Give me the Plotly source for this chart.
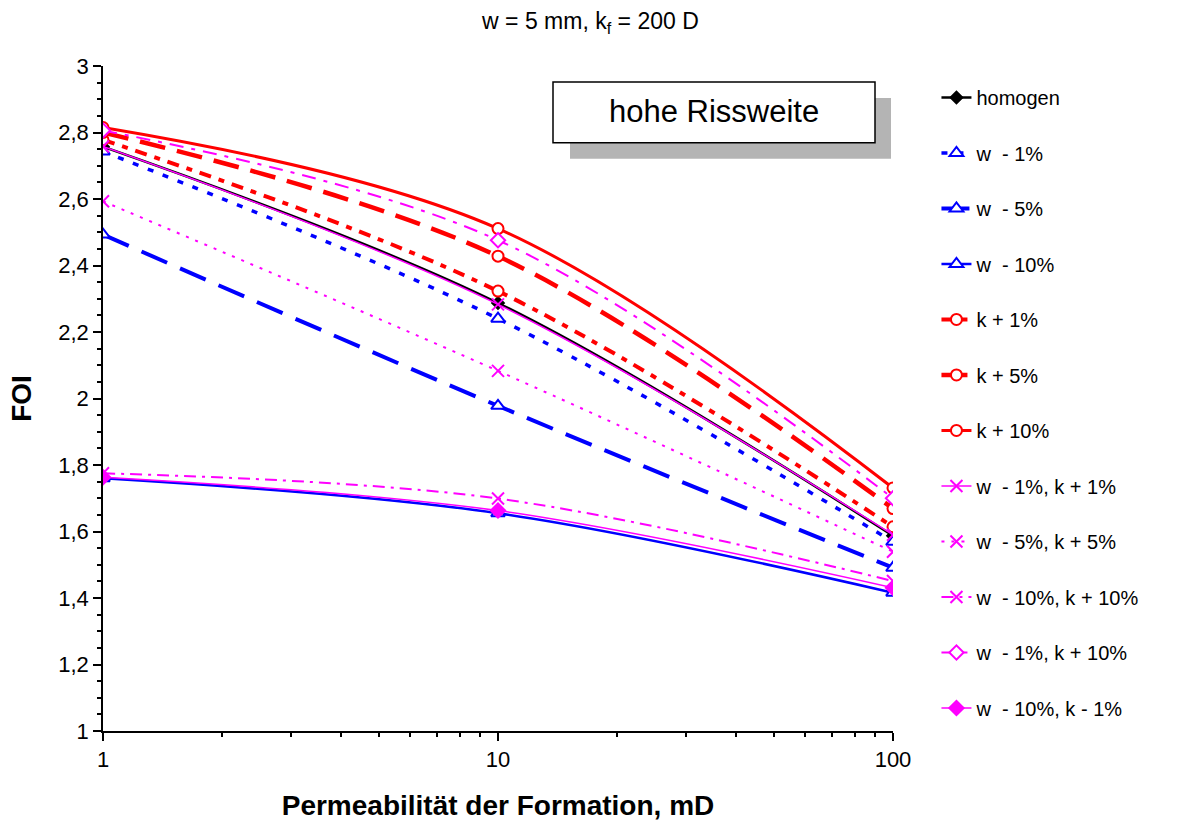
import plotly.graph_objects as go

# Formation permeability (mD)
perm = [1, 10, 100]

# FOI values for each scenario
homogen = [2.757, 2.287, 1.587]
w_1 = [2.743, 2.240, 1.569]
w_5 = [2.493, 1.978, 1.491]
w_10 = [1.760, 1.655, 1.416]
k_1 = [2.778, 2.323, 1.614]
k_5 = [2.800, 2.428, 1.669]
k_10 = [2.815, 2.511, 1.731]
w1_k1 = [2.758, 2.283, 1.590]
w5_k5 = [2.593, 2.083, 1.539]
w10_k10 = [1.775, 1.699, 1.451]
w1_k10 = [2.806, 2.476, 1.700]
w10_km1 = [1.763, 1.663, 1.431]

BLUE = "#0000FF"
RED = "#FF0000"
MAG = "#FF00FF"

series = [
    ("homogen", homogen, "#000000", 2.5, "solid", "diamond", "#000000", 9),
    ("w  - 1%", w_1, BLUE, 3.5, "6px,10px", "triangle-up", "white", 12),
    ("w  - 5%", w_5, BLUE, 4, "28px,14px", "triangle-up", "white", 12),
    ("w  - 10%", w_10, BLUE, 2.5, "solid", "triangle-up", "white", 12),
    ("k + 1%", k_1, RED, 4, "12px,8px,6px,8px", "circle", "white", 11),
    ("k + 5%", k_5, RED, 4.5, "26px,12px", "circle", "white", 11),
    ("k + 10%", k_10, RED, 3, "solid", "circle", "white", 11),
    ("w  - 1%, k + 1%", w1_k1, MAG, 1.5, "solid", "x-thin", MAG, 12),
    ("w  - 5%, k + 5%", w5_k5, MAG, 2, "3px,7px", "x-thin", MAG, 12),
    ("w  - 10%, k + 10%", w10_k10, MAG, 2, "12px,6px,3px,6px", "x-thin", MAG, 12),
    ("w  - 1%, k + 10%", w1_k10, MAG, 2, "14px,8px,4px,8px", "diamond", "white", 11),
    ("w  - 10%, k - 1%", w10_km1, MAG, 1.5, "solid", "diamond", MAG, 11),
]

fig = go.Figure()
for i, (name, vals, col, lw, dash, sym, fill, msz) in enumerate(series):
    fig.add_trace(go.Scatter(
        x=perm, y=vals, name=name, mode="lines+markers",
        legendgroup=f"g{i}",
        line=dict(color=col, width=lw, dash=dash, shape="spline", smoothing=1),
        marker=dict(symbol=sym, size=msz, color=fill,
                    line=dict(color=col, width=2)),
    ))

FONT = "Liberation Sans, Arial, sans-serif"

fig.update_layout(
    width=1188, height=828,
    margin=dict(l=103, r=295, t=66, b=95),
    plot_bgcolor="white", paper_bgcolor="white",
    separators=",.",
    font=dict(family=FONT, size=22, color="black"),
    title=dict(text="w = 5 mm, k<sub>f</sub> = 200 D", x=0.497, xref="container",
               y=0.975, yref="container", xanchor="center", yanchor="middle",
               font=dict(size=23)),
    showlegend=True,
    legend=dict(x=1.055, y=0.982, xanchor="left", yanchor="top",
                font=dict(size=20), tracegroupgap=26.5, maxheight=760,
                bgcolor="rgba(0,0,0,0)"),
)

fig.update_xaxes(
    type="log", range=[0, 2], showgrid=False, zeroline=False,
    showline=True, linecolor="black", linewidth=1.5,
    ticks="outside", ticklen=8, tickcolor="black", tickwidth=1.5,
    tickvals=[1, 10, 100], ticktext=["1", "10", "100"],
    tickfont=dict(size=22),
    minor=dict(ticks="outside", ticklen=4, tickcolor="black", dtick="D1"),
    title=dict(text="<b>Permeabilität der Formation, mD</b>", font=dict(size=28), standoff=24),
)
fig.update_yaxes(
    range=[1, 3], dtick=0.2, showgrid=False, zeroline=False,
    showline=True, linecolor="black", linewidth=1.5,
    ticks="outside", ticklen=8, tickcolor="black", tickwidth=1.5,
    tickformat=".1~f", tickfont=dict(size=22),
    minor=dict(ticks="outside", ticklen=4, tickcolor="black", dtick=0.05),
    title=dict(text="<b>FOI</b>", font=dict(size=28), standoff=18),
)

# Label box with offset shadow
fig.add_shape(type="rect", xref="paper", yref="paper",
              x0=(570 - 103) / 790, x1=(891 - 103) / 790,
              y0=(733 - 159) / 667, y1=(733 - 98) / 667,
              fillcolor="#b4b4b4", line=dict(width=0), layer="above")
fig.add_shape(type="rect", xref="paper", yref="paper",
              x0=(553 - 103) / 790, x1=(875 - 103) / 790,
              y0=(733 - 143) / 667, y1=(733 - 82) / 667,
              fillcolor="white", line=dict(color="black", width=1.5), layer="above")
fig.add_annotation(text="hohe Rissweite", xref="paper", yref="paper",
                   x=(714 - 103) / 790, y=(733 - 112) / 667,
                   xanchor="center", yanchor="middle",
                   showarrow=False, font=dict(size=31, family=FONT))

fig.write_html("out.html")
